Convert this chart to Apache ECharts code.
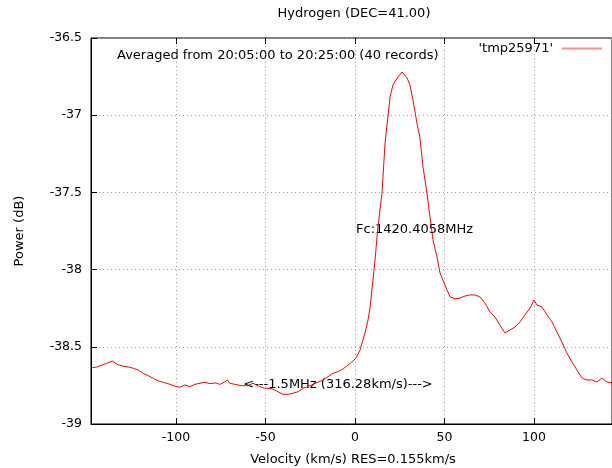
<!DOCTYPE html>
<html><head><meta charset="utf-8">
<script src="https://cdn.jsdelivr.net/npm/echarts@6/dist/echarts.min.js"></script>
<style>html,body{margin:0;padding:0;background:#fff}#c{width:612px;height:468px}</style>
</head><body><div id="c"></div>
<script>
const velocity = [-147.5,-147.1,-144.3,-141.5,-138.7,-135.4,-133.1,-130.3,-129.4,-126.6,-123.9,-121.1,-118.3,-115.5,-112.7,-109.9,-107.1,-103.4,-100.6,-97.8,-95.0,-92.2,-89.4,-86.6,-83.8,-81.0,-78.2,-75.4,-72.6,-71.3,-70.0,-67.2,-63.5,-59.8,-57.0,-53.2,-50.4,-46.8,-43.0,-40.2,-37.4,-34.6,-31.8,-29.1,-26.3,-23.5,-20.7,-17.9,-15.1,-12.3,-9.5,-6.7,-3.9,-1.1,0.7,2.8,5.6,7.3,8.4,11.2,12.8,15.1,16.8,19.6,21.2,24.0,26.3,29.1,30.7,32.4,34.6,36.3,38.0,40.2,41.9,43.6,45.8,47.5,50.3,53.1,55.9,58.7,61.5,64.2,67.0,69.8,72.6,75.4,78.2,81.0,83.8,86.6,89.4,92.2,95.0,97.8,100.0,101.7,104.5,107.3,110.1,112.8,115.6,118.4,121.2,124.0,126.8,129.6,132.4,135.2,138.0,140.8,143.6];
const power = [-38.637,-38.635,-38.631,-38.618,-38.607,-38.592,-38.613,-38.624,-38.613,-38.631,-38.639,-38.650,-38.672,-38.687,-38.704,-38.721,-38.730,-38.743,-38.756,-38.762,-38.747,-38.758,-38.743,-38.736,-38.730,-38.739,-38.734,-38.743,-38.726,-38.715,-38.736,-38.743,-38.752,-38.752,-38.736,-38.758,-38.769,-38.769,-38.791,-38.808,-38.808,-38.801,-38.791,-38.769,-38.758,-38.743,-38.730,-38.715,-38.694,-38.672,-38.661,-38.644,-38.618,-38.592,-38.571,-38.521,-38.411,-38.326,-38.249,-37.938,-37.724,-37.504,-37.180,-36.882,-36.804,-36.753,-36.720,-36.759,-36.804,-36.902,-37.051,-37.148,-37.335,-37.504,-37.659,-37.808,-37.918,-38.022,-38.100,-38.177,-38.190,-38.184,-38.171,-38.164,-38.164,-38.177,-38.216,-38.275,-38.307,-38.359,-38.411,-38.391,-38.372,-38.339,-38.294,-38.249,-38.197,-38.229,-38.242,-38.294,-38.339,-38.404,-38.469,-38.540,-38.598,-38.650,-38.702,-38.715,-38.715,-38.728,-38.702,-38.728,-38.734];
const xTicks = [-100,-50,0,50,100];
const seriesName = "'tmp25971'";
const titleText = 'Hydrogen (DEC=41.00)';
const xName = 'Velocity (km/s) RES=0.155km/s';
const yName = 'Power (dB)';
const note1 = 'Averaged from 20:05:00 to 20:25:00 (40 records)';
const note2 = 'Fc:1420.4058MHz';
const note3 = '<---1.5MHz (316.28km/s)--->';

const F = 'DejaVu Sans';
const TF = '13px "DejaVu Sans"';
const chart = echarts.init(document.getElementById('c'));
const pts = velocity.map((v,i)=>[v,power[i]]);
const splitStyle = {show:true, lineStyle:{color:'#a0a0a0', type:[1,3], width:1}};
chart.setOption({
  animation:false,
  textStyle:{fontFamily:F},
  grid:{left:91, right:0, top:38, bottom:44, show:true, borderColor:'#000', borderWidth:1},
  legend:{right:10, top:42, padding:0, align:'right', icon:'rect', itemWidth:40, itemHeight:2, itemGap:5,
    data:[{name:seriesName, itemStyle:{color:'#ff8c8c'}}],
    textStyle:{fontFamily:F, fontSize:13, color:'#000', padding:[0,4,0,0]}},
  xAxis:[{type:'value', min:-147.5, max:143.6,
    axisLine:{show:true, onZero:false, lineStyle:{color:'#000'}},
    axisTick:{show:true, inside:true, length:6, customValues:xTicks, lineStyle:{color:'#000'}},
    axisLabel:{customValues:xTicks, color:'#000', fontSize:12.5, fontFamily:F, margin:7},
    splitLine:splitStyle},
   {type:'value', position:'top', min:-147.5, max:143.6,
    axisLine:{show:false, onZero:false},
    axisTick:{show:true, inside:true, length:6, customValues:xTicks, lineStyle:{color:'#000'}},
    axisLabel:{show:false}, splitLine:{show:false}}],
  yAxis:{type:'value', min:-39, max:-36.5, interval:0.5,
    axisLine:{show:true, onZero:false, lineStyle:{color:'#000'}},
    axisTick:{show:true, inside:true, length:6, lineStyle:{color:'#000'}},
    axisLabel:{color:'#000', fontSize:12.5, fontFamily:F, margin:9},
    splitLine:splitStyle},
  series:[{name:seriesName, type:'line', data:pts, showSymbol:false, symbol:'none', xAxisIndex:0,
    lineStyle:{color:'#ff0000', width:1}, itemStyle:{color:'#ff0000'}}],
  graphic:[
    {type:'text', x:354, y:14, style:{text:titleText, font:TF, fill:'#000', textAlign:'center', textVerticalAlign:'middle'}},
    {type:'text', x:353, y:460, style:{text:xName, font:TF, fill:'#000', textAlign:'center', textVerticalAlign:'middle'}},
    {type:'text', x:20, y:231, rotation:Math.PI/2, style:{text:yName, font:TF, fill:'#000', textAlign:'center', textVerticalAlign:'middle'}},
    {type:'text', x:117, y:56, style:{text:note1, font:TF, fill:'#000', textAlign:'left', textVerticalAlign:'middle'}},
    {type:'text', x:356, y:230, style:{text:note2, font:TF, fill:'#000', textAlign:'left', textVerticalAlign:'middle'}},
    {type:'text', x:338, y:385, style:{text:note3, font:TF, fill:'#000', textAlign:'center', textVerticalAlign:'middle'}}
  ]
});
</script></body></html>
